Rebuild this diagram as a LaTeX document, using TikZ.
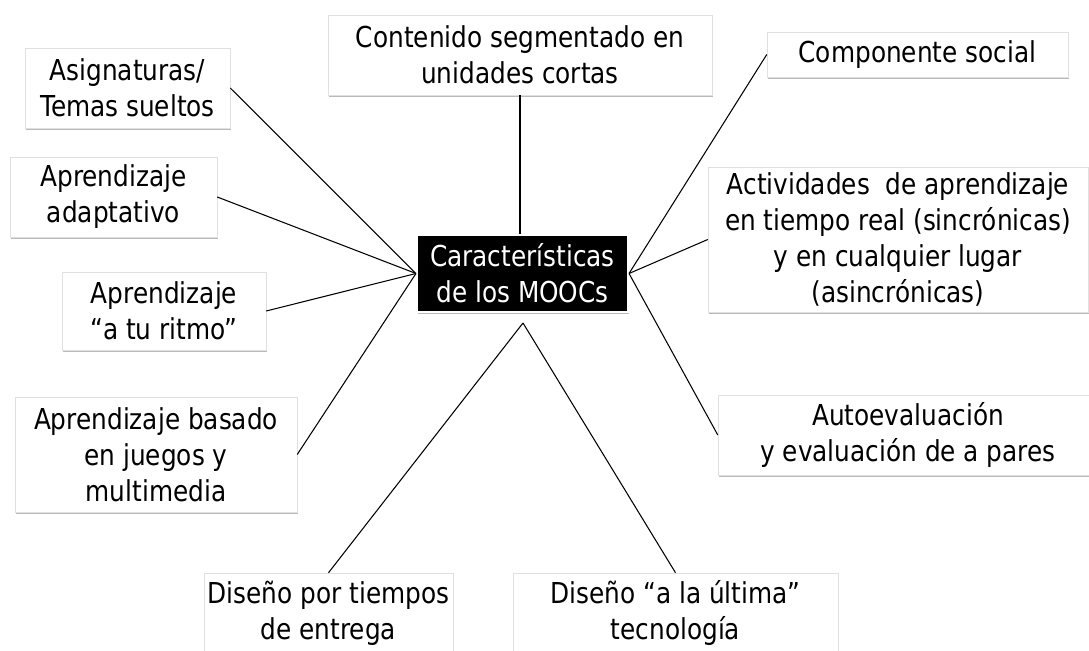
\documentclass[tikz,border=0pt]{standalone}
\usepackage{fontspec}
\setmainfont{DejaVu Sans}[FakeStretch=0.86]
\usetikzlibrary{shadows,positioning}

\begin{document}
\begin{tikzpicture}[x=0.02cm,y=-0.02cm,
  box/.style={fill=white,draw=black!12,line width=0.3pt,align=center,inner sep=2pt,
    font=\fontsize{16.4pt}{20.5pt}\selectfont,
    drop shadow={shadow xshift=0.7pt,shadow yshift=-1.3pt,opacity=0.45,fill=black!60}},
  hub/.style={box,fill=black,draw=white,line width=1.2pt,text=white},
  spoke/.style={line width=0.6pt}]
  \useasboundingbox (0,0) rectangle (1089,651);
% the boxes
  \node[hub,minimum width=4.22cm,minimum height=1.54cm] (ctr) at (522.5,273.5) {Características\\de los MOOCs};
  \node[box,minimum width=7.68cm,minimum height=1.6cm] (cont) at (520,55) {Contenido segmentado en\\unidades cortas};
  \node[box,minimum width=4.1cm,minimum height=1.6cm] (asig) at (127.5,88) {Asignaturas/\\Temas sueltos};
  \node[box,minimum width=4.14cm,minimum height=1.6cm] (adap) at (113.5,197) {Aprendizaje\\adaptativo};
  \node[box,minimum width=4.08cm,minimum height=1.56cm] (ritmo) at (164,311) {Aprendizaje\\“a tu ritmo”};
  \node[box,minimum width=5.64cm,minimum height=2.3cm] (juegos) at (156,454.5) {Aprendizaje basado\\en juegos y\\multimedia};
  \node[box,minimum width=6.02cm,minimum height=0.9cm] (social) at (917.5,54.5) {Componente social};
  \node[box,minimum width=7.6cm,minimum height=2.9cm] (activ) at (898,239.5) {Actividades\ \ de aprendizaje\\en tiempo real (sincrónicas)\\y en cualquier lugar\\(asincrónicas)};
  \node[box,minimum width=7.6cm,minimum height=1.6cm] (autoev) at (908,435) {Autoevaluación\\y evaluación de a pares};
  \node[box,minimum width=4.86cm,minimum height=1.6cm] (entrega) at (328.5,613) {Diseño por tiempos\\de entrega};
  \node[box,minimum width=6.5cm,minimum height=1.6cm] (tecno) at (675.5,613) {Diseño “a la última”\\tecnología};
  \coordinate (apex) at (523,323);
% connectors
  \draw[spoke] (cont.south) -- (cont.south |- ctr.north);
  \draw[spoke] (ctr.west) -- (asig.east);
  \draw[spoke] (ctr.west) -- (adap.east);
  \draw[spoke] (ctr.west) -- (ritmo.east);
  \draw[spoke] (ctr.west) -- (juegos.east);
  \draw[spoke] (ctr.east) -- (social.west);
  \draw[spoke] (ctr.east) -- (activ.west);
  \draw[spoke] (ctr.east) -- (autoev.west);
  \draw[spoke] (apex) -- (entrega.north);
  \draw[spoke] (apex) -- (tecno.north);
\end{tikzpicture}
\end{document}
